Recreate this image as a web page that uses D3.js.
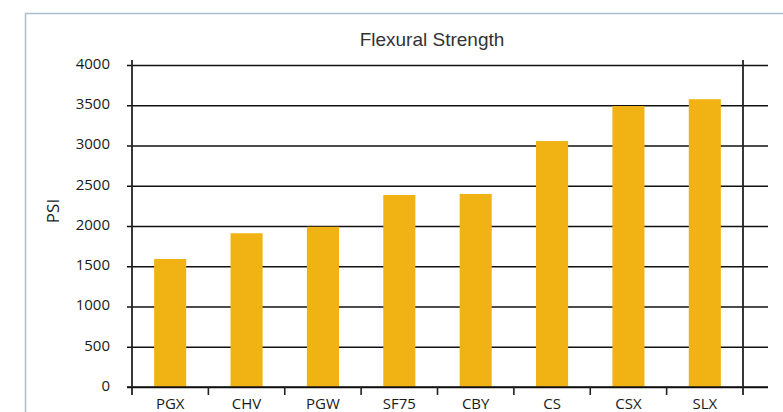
<!DOCTYPE html>
<html>
<head>
<meta charset="utf-8">
<script src="https://cdn.jsdelivr.net/npm/d3@7"></script>
<style>
  body { margin: 0; background: #fff; }
  .tick text { font-family: "Open Sans", sans-serif; fill: #1a1a1a; }
</style>
</head>
<body>
<div id="chart"></div>
<script>
// chart data
const categories = ["PGX", "CHV", "PGW", "SF75", "CBY", "CS", "CSX", "SLX"];
const psiValues = [1590, 1910, 1990, 2385, 2398, 3055, 3490, 3575];
const yTicks = [0, 500, 1000, 1500, 2000, 2500, 3000, 3500, 4000];

const width = 783;
const height = 412;

const svg = d3.select("#chart")
    .append("svg")
    .attr("width", width)
    .attr("height", height);

// outer frame (only left and top edges are visible)
svg.append("path")
    .attr("d", "M25.5,420 V13.5 H790")
    .attr("fill", "none")
    .attr("stroke", "#a9bfcd")
    .attr("stroke-width", 1.5);

const plotLeft = 132, plotRight = 743, plotTop = 65, plotBottom = 387;

const x = d3.scaleBand()
    .domain(categories)
    .range([plotLeft, plotRight])
    .paddingInner(0.58)
    .paddingOuter(0.29);

const y = d3.scaleLinear()
    .domain([0, 4000])
    .range([plotBottom, plotTop]);

// horizontal grid lines + y labels
const yAxis = svg.append("g")
    .attr("transform", `translate(${plotLeft - 5},0)`)
    .call(d3.axisLeft(y)
        .tickValues(yTicks)
        .tickFormat(d3.format("d"))
        .tickSizeInner(-(768 - plotLeft + 5))
        .tickSizeOuter(0)
        .tickPadding(17));
yAxis.select(".domain").remove();
yAxis.selectAll(".tick line")
    .attr("stroke", "#111")
    .attr("stroke-width", 1.6);
yAxis.selectAll(".tick text")
    .attr("dy", "0.22em")
    .style("font-size", "15px");

// bars
svg.append("g")
    .selectAll("rect")
    .data(psiValues)
    .enter()
    .append("rect")
    .attr("x", (d, i) => x(categories[i]))
    .attr("y", d => y(d))
    .attr("width", x.bandwidth())
    .attr("height", d => y(0) - y(d))
    .attr("fill", "#f0b313");

// redraw the zero line over the bars
svg.append("line")
    .attr("x1", plotLeft - 5)
    .attr("x2", 768)
    .attr("y1", y(0))
    .attr("y2", y(0))
    .attr("stroke", "#111")
    .attr("stroke-width", 1.6);

// vertical lines at left and right edge of plot
svg.selectAll(".vline")
    .data(x.range())
    .enter()
    .append("line")
    .attr("class", "vline")
    .attr("x1", d => d)
    .attr("x2", d => d)
    .attr("y1", y(4000) - 5)
    .attr("y2", y(0) + 8)
    .attr("stroke", "#222")
    .attr("stroke-width", 1.8);

// x ticks at band boundaries
const half = x.step() / 2;
svg.selectAll(".xtick")
    .data(categories.slice(1))
    .enter()
    .append("line")
    .attr("class", "xtick")
    .attr("x1", d => x(d) + x.bandwidth() / 2 - half)
    .attr("x2", d => x(d) + x.bandwidth() / 2 - half)
    .attr("y1", y(0))
    .attr("y2", y(0) + 8)
    .attr("stroke", "#222")
    .attr("stroke-width", 1.6);

// x labels
const xAxis = svg.append("g")
    .attr("transform", `translate(0,${plotBottom})`)
    .call(d3.axisBottom(x).tickSize(0).tickPadding(11));
xAxis.select(".domain").remove();
xAxis.selectAll(".tick text")
    .style("font-size", "15px");

// title
svg.append("text")
    .attr("x", 432)
    .attr("y", 46)
    .attr("text-anchor", "middle")
    .style("font-family", "Liberation Sans, Arial, sans-serif")
    .style("font-size", "19px")
    .attr("fill", "#333")
    .text("Flexural Strength");

// y axis title
svg.append("text")
    .attr("transform", "translate(59,211) rotate(-90)")
    .attr("text-anchor", "middle")
    .style("font-family", "Open Sans, sans-serif")
    .style("font-size", "17px")
    .attr("fill", "#1a1a1a")
    .text("PSI");
</script>
</body>
</html>
